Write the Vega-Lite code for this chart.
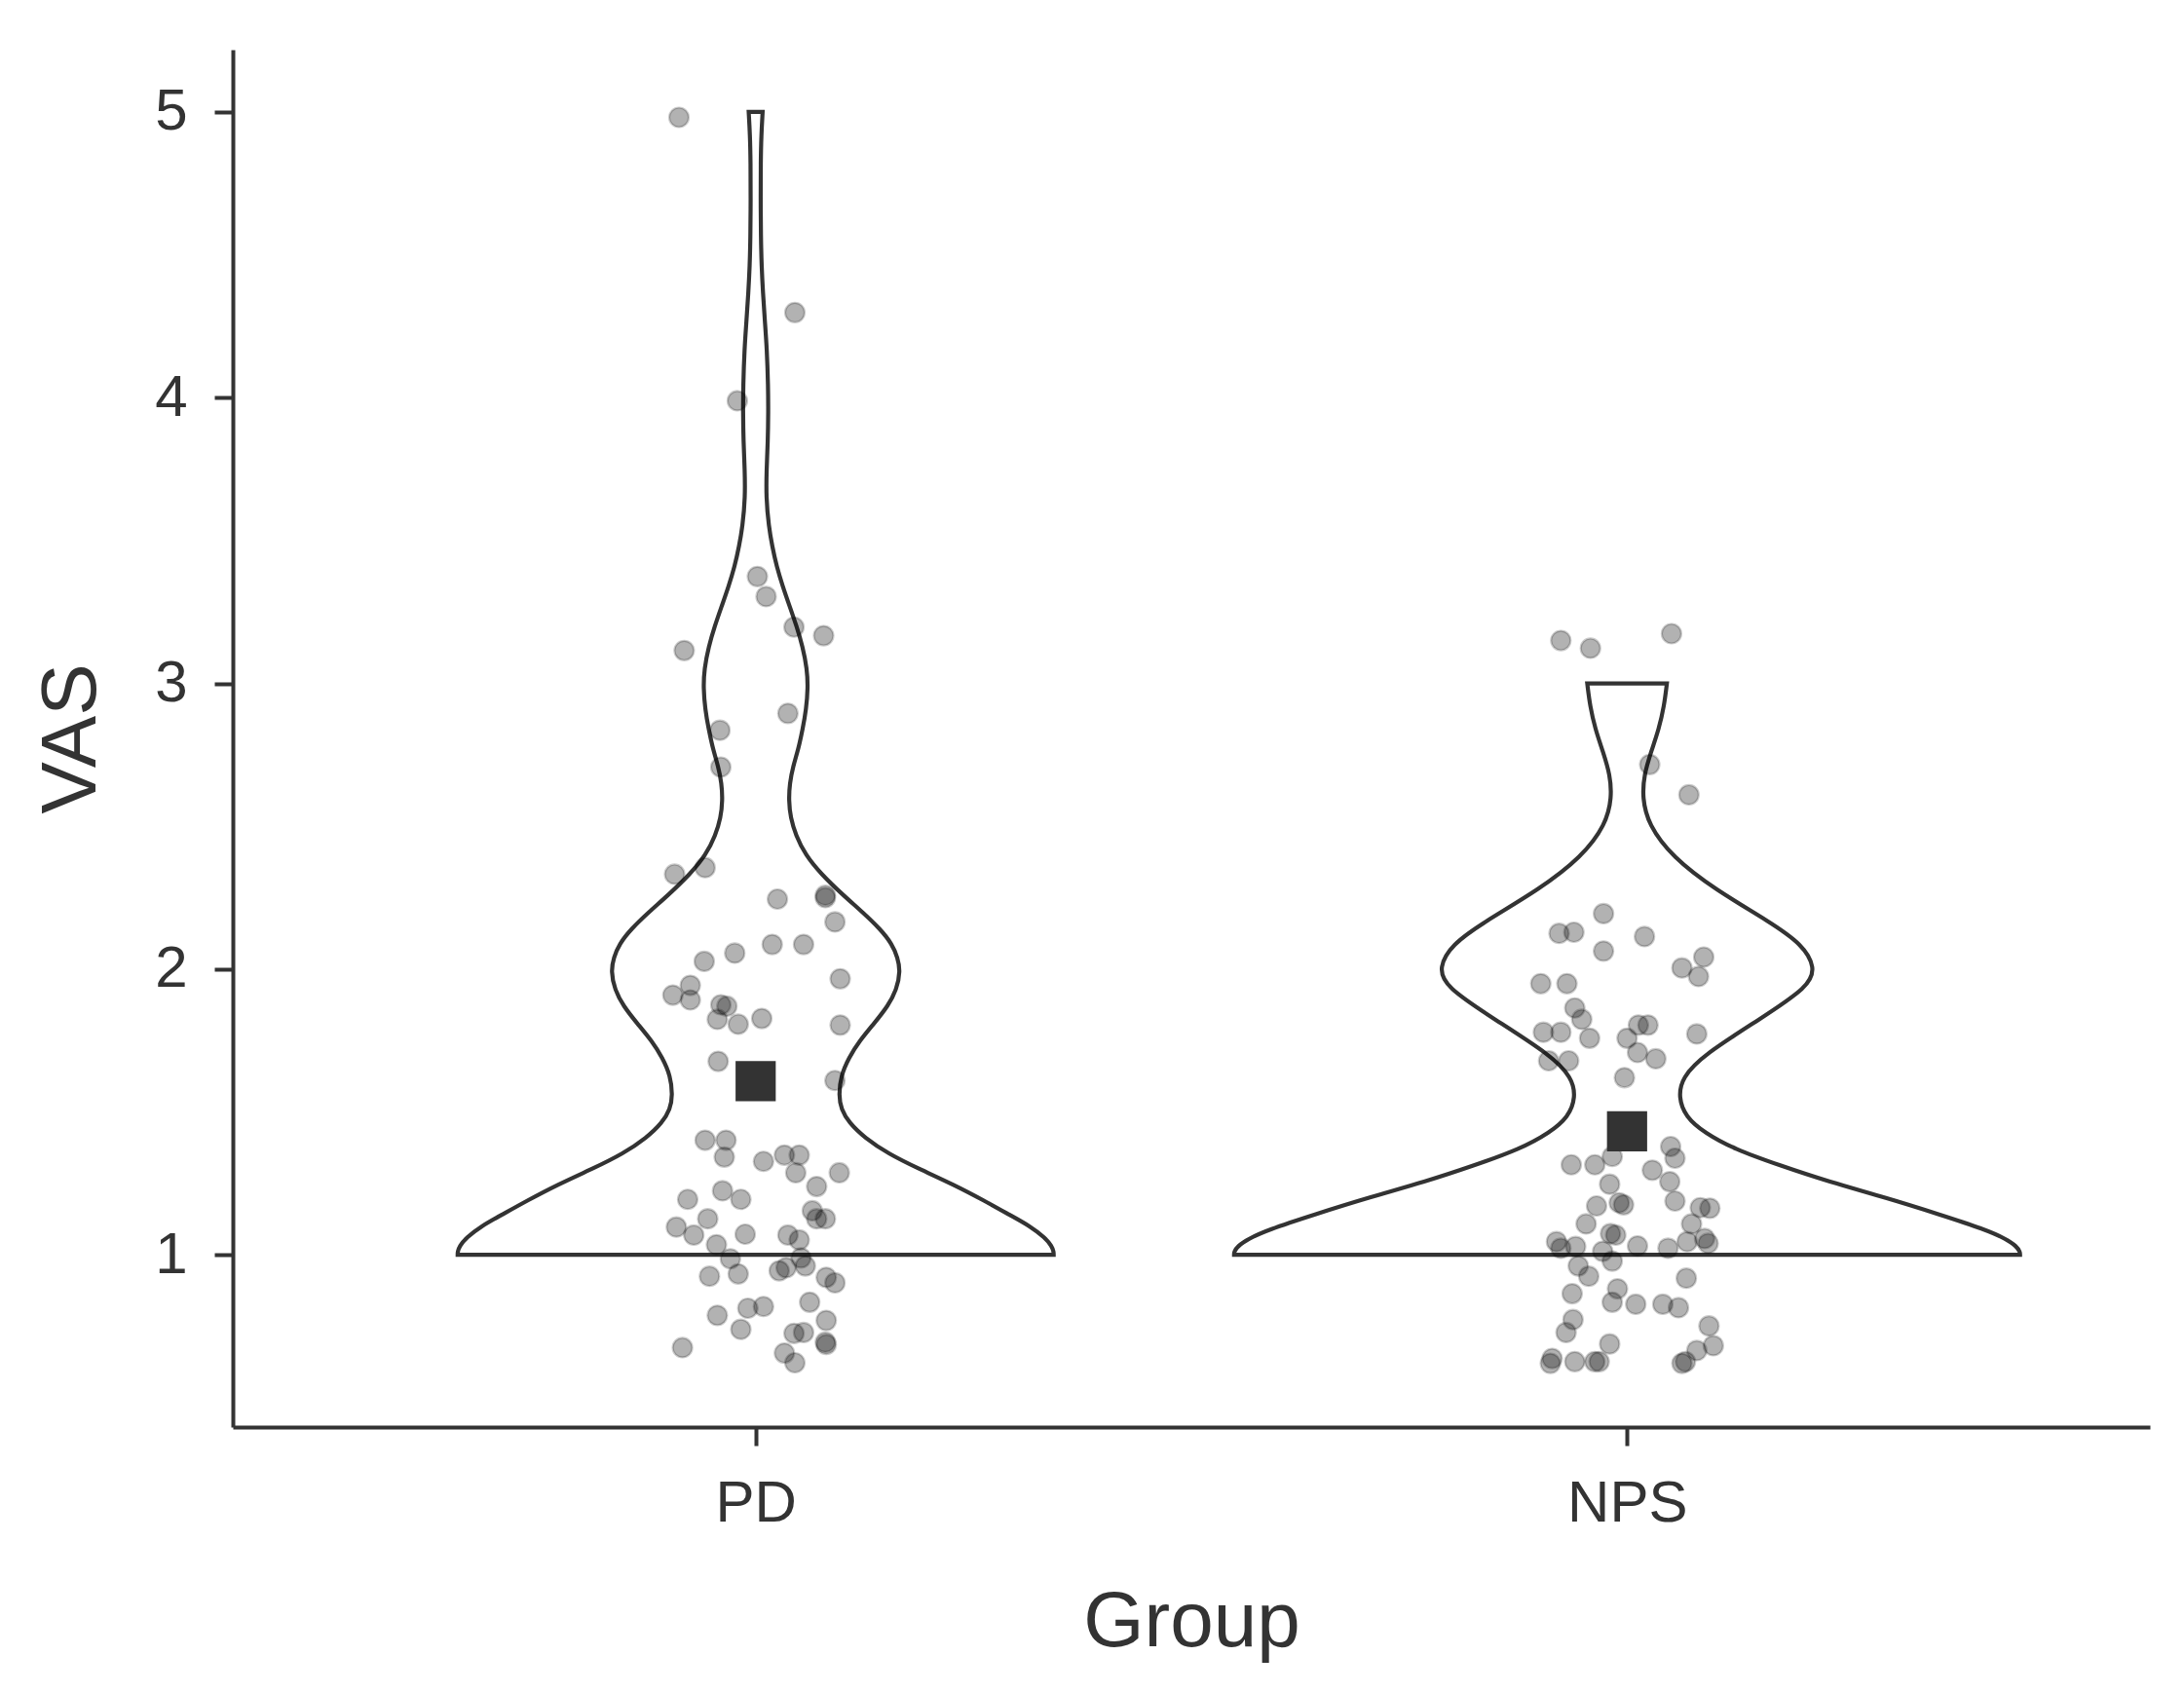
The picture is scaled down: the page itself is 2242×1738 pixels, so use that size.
{
  "$schema": "https://vega.github.io/schema/vega-lite/v6.json",
  "width": 1968,
  "height": 1414,
  "autosize": "none",
  "padding": {"left": 239, "top": 51, "right": 35, "bottom": 273},
  "background": "white",
  "config": {
    "view": {"stroke": null},
    "axis": {
      "grid": false,
      "domainColor": "#333333",
      "domainWidth": 4,
      "tickColor": "#333333",
      "tickWidth": 4,
      "tickSize": 19,
      "labelFont": "Liberation Sans",
      "labelFontSize": 60,
      "labelColor": "#333333",
      "titleFont": "Liberation Sans",
      "titleFontSize": 80,
      "titleFontWeight": "normal",
      "titleColor": "#333333"
    }
  },
  "datasets": {
    "violin": [
      {"g": "PD", "v": 1.000, "x": 0.658, "x2": 1.342},
      {"g": "PD", "v": 1.010, "x": 0.658, "x2": 1.342},
      {"g": "PD", "v": 1.030, "x": 0.660, "x2": 1.340},
      {"g": "PD", "v": 1.060, "x": 0.668, "x2": 1.332},
      {"g": "PD", "v": 1.100, "x": 0.685, "x2": 1.315},
      {"g": "PD", "v": 1.137, "x": 0.707, "x2": 1.293},
      {"g": "PD", "v": 1.190, "x": 0.738, "x2": 1.262},
      {"g": "PD", "v": 1.246, "x": 0.773, "x2": 1.227},
      {"g": "PD", "v": 1.300, "x": 0.812, "x2": 1.188},
      {"g": "PD", "v": 1.354, "x": 0.848, "x2": 1.152},
      {"g": "PD", "v": 1.410, "x": 0.875, "x2": 1.125},
      {"g": "PD", "v": 1.463, "x": 0.893, "x2": 1.107},
      {"g": "PD", "v": 1.510, "x": 0.902, "x2": 1.098},
      {"g": "PD", "v": 1.558, "x": 0.9046, "x2": 1.0954},
      {"g": "PD", "v": 1.626, "x": 0.9023, "x2": 1.0977},
      {"g": "PD", "v": 1.690, "x": 0.893, "x2": 1.107},
      {"g": "PD", "v": 1.748, "x": 0.881, "x2": 1.119},
      {"g": "PD", "v": 1.810, "x": 0.864, "x2": 1.136},
      {"g": "PD", "v": 1.871, "x": 0.848, "x2": 1.152},
      {"g": "PD", "v": 1.930, "x": 0.838, "x2": 1.162},
      {"g": "PD", "v": 1.993, "x": 0.834, "x2": 1.166},
      {"g": "PD", "v": 2.040, "x": 0.837, "x2": 1.163},
      {"g": "PD", "v": 2.088, "x": 0.8435, "x2": 1.1565},
      {"g": "PD", "v": 2.140, "x": 0.857, "x2": 1.143},
      {"g": "PD", "v": 2.197, "x": 0.8765, "x2": 1.1235},
      {"g": "PD", "v": 2.260, "x": 0.900, "x2": 1.100},
      {"g": "PD", "v": 2.333, "x": 0.925, "x2": 1.075},
      {"g": "PD", "v": 2.400, "x": 0.943, "x2": 1.057},
      {"g": "PD", "v": 2.469, "x": 0.954, "x2": 1.046},
      {"g": "PD", "v": 2.530, "x": 0.960, "x2": 1.040},
      {"g": "PD", "v": 2.590, "x": 0.962, "x2": 1.038},
      {"g": "PD", "v": 2.650, "x": 0.961, "x2": 1.039},
      {"g": "PD", "v": 2.710, "x": 0.957, "x2": 1.043},
      {"g": "PD", "v": 2.770, "x": 0.951, "x2": 1.049},
      {"g": "PD", "v": 2.840, "x": 0.946, "x2": 1.054},
      {"g": "PD", "v": 2.910, "x": 0.942, "x2": 1.058},
      {"g": "PD", "v": 2.985, "x": 0.940, "x2": 1.060},
      {"g": "PD", "v": 3.050, "x": 0.941, "x2": 1.059},
      {"g": "PD", "v": 3.128, "x": 0.946, "x2": 1.054},
      {"g": "PD", "v": 3.200, "x": 0.953, "x2": 1.047},
      {"g": "PD", "v": 3.270, "x": 0.961, "x2": 1.039},
      {"g": "PD", "v": 3.340, "x": 0.969, "x2": 1.031},
      {"g": "PD", "v": 3.410, "x": 0.976, "x2": 1.024},
      {"g": "PD", "v": 3.480, "x": 0.981, "x2": 1.019},
      {"g": "PD", "v": 3.550, "x": 0.985, "x2": 1.015},
      {"g": "PD", "v": 3.650, "x": 0.988, "x2": 1.012},
      {"g": "PD", "v": 3.750, "x": 0.9875, "x2": 1.0125},
      {"g": "PD", "v": 3.846, "x": 0.986, "x2": 1.014},
      {"g": "PD", "v": 3.950, "x": 0.9855, "x2": 1.0145},
      {"g": "PD", "v": 4.040, "x": 0.9857, "x2": 1.0143},
      {"g": "PD", "v": 4.170, "x": 0.9871, "x2": 1.0129},
      {"g": "PD", "v": 4.270, "x": 0.9895, "x2": 1.0105},
      {"g": "PD", "v": 4.367, "x": 0.9916, "x2": 1.0084},
      {"g": "PD", "v": 4.460, "x": 0.9932, "x2": 1.0068},
      {"g": "PD", "v": 4.563, "x": 0.9940, "x2": 1.0060},
      {"g": "PD", "v": 4.700, "x": 0.9943, "x2": 1.0057},
      {"g": "PD", "v": 4.824, "x": 0.9942, "x2": 1.0058},
      {"g": "PD", "v": 4.920, "x": 0.9935, "x2": 1.0065},
      {"g": "PD", "v": 5.000, "x": 0.992, "x2": 1.008},
      {"g": "NPS", "v": 1.000, "x": 1.549, "x2": 2.451},
      {"g": "NPS", "v": 1.010, "x": 1.549, "x2": 2.451},
      {"g": "NPS", "v": 1.030, "x": 1.553, "x2": 2.447},
      {"g": "NPS", "v": 1.055, "x": 1.565, "x2": 2.435},
      {"g": "NPS", "v": 1.086, "x": 1.5863, "x2": 2.4137},
      {"g": "NPS", "v": 1.142, "x": 1.6422, "x2": 2.3578},
      {"g": "NPS", "v": 1.199, "x": 1.7018, "x2": 2.2982},
      {"g": "NPS", "v": 1.256, "x": 1.7689, "x2": 2.2311},
      {"g": "NPS", "v": 1.313, "x": 1.825, "x2": 2.175},
      {"g": "NPS", "v": 1.370, "x": 1.877, "x2": 2.123},
      {"g": "NPS", "v": 1.427, "x": 1.911, "x2": 2.089},
      {"g": "NPS", "v": 1.483, "x": 1.9329, "x2": 2.0671},
      {"g": "NPS", "v": 1.551, "x": 1.941, "x2": 2.059},
      {"g": "NPS", "v": 1.620, "x": 1.937, "x2": 2.063},
      {"g": "NPS", "v": 1.700, "x": 1.912, "x2": 2.088},
      {"g": "NPS", "v": 1.824, "x": 1.848, "x2": 2.152},
      {"g": "NPS", "v": 1.938, "x": 1.7913, "x2": 2.2087},
      {"g": "NPS", "v": 2.006, "x": 1.7839, "x2": 2.2161},
      {"g": "NPS", "v": 2.086, "x": 1.7987, "x2": 2.2013},
      {"g": "NPS", "v": 2.165, "x": 1.836, "x2": 2.164},
      {"g": "NPS", "v": 2.279, "x": 1.8994, "x2": 2.1006},
      {"g": "NPS", "v": 2.392, "x": 1.948, "x2": 2.052},
      {"g": "NPS", "v": 2.506, "x": 1.9757, "x2": 2.0243},
      {"g": "NPS", "v": 2.600, "x": 1.9825, "x2": 2.0175},
      {"g": "NPS", "v": 2.680, "x": 1.9805, "x2": 2.0195},
      {"g": "NPS", "v": 2.760, "x": 1.9725, "x2": 2.0275},
      {"g": "NPS", "v": 2.840, "x": 1.9635, "x2": 2.0365},
      {"g": "NPS", "v": 2.920, "x": 1.9575, "x2": 2.0425},
      {"g": "NPS", "v": 3.000, "x": 1.9543, "x2": 2.0457}
    ],
    "points": [
      {"g": "PD", "x": 0.912, "v": 4.981}, {"g": "PD", "x": 1.045, "v": 4.298},
      {"g": "PD", "x": 0.979, "v": 3.989}, {"g": "PD", "x": 1.002, "v": 3.374},
      {"g": "PD", "x": 1.012, "v": 3.304}, {"g": "PD", "x": 1.044, "v": 3.197},
      {"g": "PD", "x": 1.078, "v": 3.167}, {"g": "PD", "x": 0.918, "v": 3.115},
      {"g": "PD", "x": 1.037, "v": 2.895}, {"g": "PD", "x": 0.959, "v": 2.836},
      {"g": "PD", "x": 0.960, "v": 2.707}, {"g": "PD", "x": 0.907, "v": 2.332},
      {"g": "PD", "x": 0.942, "v": 2.355}, {"g": "PD", "x": 1.025, "v": 2.245},
      {"g": "PD", "x": 1.080, "v": 2.258}, {"g": "PD", "x": 1.080, "v": 2.250},
      {"g": "PD", "x": 1.091, "v": 2.165}, {"g": "PD", "x": 1.019, "v": 2.086},
      {"g": "PD", "x": 1.055, "v": 2.086}, {"g": "PD", "x": 0.976, "v": 2.056},
      {"g": "PD", "x": 0.941, "v": 2.027}, {"g": "PD", "x": 1.097, "v": 1.966},
      {"g": "PD", "x": 0.925, "v": 1.943}, {"g": "PD", "x": 0.905, "v": 1.909},
      {"g": "PD", "x": 0.925, "v": 1.892}, {"g": "PD", "x": 0.960, "v": 1.875},
      {"g": "PD", "x": 0.967, "v": 1.870}, {"g": "PD", "x": 0.956, "v": 1.824},
      {"g": "PD", "x": 0.980, "v": 1.807}, {"g": "PD", "x": 1.007, "v": 1.827},
      {"g": "PD", "x": 1.097, "v": 1.804}, {"g": "PD", "x": 0.957, "v": 1.677},
      {"g": "PD", "x": 1.091, "v": 1.610}, {"g": "PD", "x": 0.942, "v": 1.401},
      {"g": "PD", "x": 0.966, "v": 1.401}, {"g": "PD", "x": 0.964, "v": 1.342},
      {"g": "PD", "x": 1.009, "v": 1.327}, {"g": "PD", "x": 1.033, "v": 1.349},
      {"g": "PD", "x": 1.050, "v": 1.349}, {"g": "PD", "x": 1.046, "v": 1.287},
      {"g": "PD", "x": 1.096, "v": 1.287}, {"g": "PD", "x": 1.070, "v": 1.239},
      {"g": "PD", "x": 0.922, "v": 1.194}, {"g": "PD", "x": 0.962, "v": 1.224},
      {"g": "PD", "x": 0.983, "v": 1.194}, {"g": "PD", "x": 1.065, "v": 1.154},
      {"g": "PD", "x": 1.070, "v": 1.126}, {"g": "PD", "x": 1.080, "v": 1.126},
      {"g": "PD", "x": 0.945, "v": 1.126}, {"g": "PD", "x": 0.909, "v": 1.097},
      {"g": "PD", "x": 0.929, "v": 1.069}, {"g": "PD", "x": 0.988, "v": 1.072},
      {"g": "PD", "x": 1.037, "v": 1.069}, {"g": "PD", "x": 1.050, "v": 1.052},
      {"g": "PD", "x": 0.955, "v": 1.035}, {"g": "PD", "x": 0.971, "v": 0.986},
      {"g": "PD", "x": 1.052, "v": 0.989}, {"g": "PD", "x": 1.057, "v": 0.961},
      {"g": "PD", "x": 1.027, "v": 0.944}, {"g": "PD", "x": 1.035, "v": 0.955},
      {"g": "PD", "x": 0.947, "v": 0.925}, {"g": "PD", "x": 0.980, "v": 0.933},
      {"g": "PD", "x": 1.081, "v": 0.921}, {"g": "PD", "x": 1.091, "v": 0.902},
      {"g": "PD", "x": 1.062, "v": 0.834}, {"g": "PD", "x": 0.991, "v": 0.813},
      {"g": "PD", "x": 1.009, "v": 0.819}, {"g": "PD", "x": 0.956, "v": 0.788},
      {"g": "PD", "x": 1.081, "v": 0.770}, {"g": "PD", "x": 0.983, "v": 0.739},
      {"g": "PD", "x": 1.044, "v": 0.725}, {"g": "PD", "x": 1.055, "v": 0.728},
      {"g": "PD", "x": 1.080, "v": 0.694}, {"g": "PD", "x": 1.081, "v": 0.686},
      {"g": "PD", "x": 0.916, "v": 0.675}, {"g": "PD", "x": 1.033, "v": 0.656},
      {"g": "PD", "x": 1.045, "v": 0.622},
      {"g": "NPS", "x": 1.924, "v": 3.150}, {"g": "NPS", "x": 1.958, "v": 3.123},
      {"g": "NPS", "x": 2.051, "v": 3.174}, {"g": "NPS", "x": 2.026, "v": 2.716},
      {"g": "NPS", "x": 2.071, "v": 2.610}, {"g": "NPS", "x": 1.973, "v": 2.194},
      {"g": "NPS", "x": 1.922, "v": 2.125}, {"g": "NPS", "x": 1.939, "v": 2.129},
      {"g": "NPS", "x": 1.973, "v": 2.063}, {"g": "NPS", "x": 2.020, "v": 2.114},
      {"g": "NPS", "x": 2.088, "v": 2.042}, {"g": "NPS", "x": 2.063, "v": 2.004},
      {"g": "NPS", "x": 2.082, "v": 1.974}, {"g": "NPS", "x": 1.901, "v": 1.949},
      {"g": "NPS", "x": 1.931, "v": 1.949}, {"g": "NPS", "x": 1.940, "v": 1.864},
      {"g": "NPS", "x": 1.948, "v": 1.824}, {"g": "NPS", "x": 1.904, "v": 1.779},
      {"g": "NPS", "x": 1.924, "v": 1.779}, {"g": "NPS", "x": 1.957, "v": 1.758},
      {"g": "NPS", "x": 2.013, "v": 1.804}, {"g": "NPS", "x": 2.024, "v": 1.804},
      {"g": "NPS", "x": 2.000, "v": 1.758}, {"g": "NPS", "x": 2.080, "v": 1.773},
      {"g": "NPS", "x": 1.910, "v": 1.679}, {"g": "NPS", "x": 1.933, "v": 1.679},
      {"g": "NPS", "x": 2.012, "v": 1.708}, {"g": "NPS", "x": 2.033, "v": 1.686},
      {"g": "NPS", "x": 1.997, "v": 1.620}, {"g": "NPS", "x": 1.936, "v": 1.315},
      {"g": "NPS", "x": 1.963, "v": 1.315}, {"g": "NPS", "x": 1.983, "v": 1.344},
      {"g": "NPS", "x": 2.050, "v": 1.379}, {"g": "NPS", "x": 2.055, "v": 1.338},
      {"g": "NPS", "x": 2.029, "v": 1.296}, {"g": "NPS", "x": 2.049, "v": 1.256},
      {"g": "NPS", "x": 1.980, "v": 1.247}, {"g": "NPS", "x": 2.055, "v": 1.188},
      {"g": "NPS", "x": 1.965, "v": 1.171}, {"g": "NPS", "x": 1.991, "v": 1.182},
      {"g": "NPS", "x": 1.996, "v": 1.175}, {"g": "NPS", "x": 2.084, "v": 1.165},
      {"g": "NPS", "x": 2.095, "v": 1.163}, {"g": "NPS", "x": 1.953, "v": 1.108},
      {"g": "NPS", "x": 2.074, "v": 1.108}, {"g": "NPS", "x": 1.981, "v": 1.074},
      {"g": "NPS", "x": 1.987, "v": 1.069}, {"g": "NPS", "x": 1.919, "v": 1.046},
      {"g": "NPS", "x": 1.924, "v": 1.023}, {"g": "NPS", "x": 1.941, "v": 1.029},
      {"g": "NPS", "x": 1.972, "v": 1.012}, {"g": "NPS", "x": 1.983, "v": 0.978},
      {"g": "NPS", "x": 2.012, "v": 1.031}, {"g": "NPS", "x": 2.047, "v": 1.023},
      {"g": "NPS", "x": 2.069, "v": 1.046}, {"g": "NPS", "x": 2.089, "v": 1.057},
      {"g": "NPS", "x": 2.093, "v": 1.040}, {"g": "NPS", "x": 1.944, "v": 0.961},
      {"g": "NPS", "x": 1.956, "v": 0.925}, {"g": "NPS", "x": 2.068, "v": 0.918},
      {"g": "NPS", "x": 1.937, "v": 0.864}, {"g": "NPS", "x": 1.989, "v": 0.881},
      {"g": "NPS", "x": 1.983, "v": 0.834}, {"g": "NPS", "x": 2.010, "v": 0.827},
      {"g": "NPS", "x": 2.041, "v": 0.827}, {"g": "NPS", "x": 2.059, "v": 0.815},
      {"g": "NPS", "x": 1.938, "v": 0.773}, {"g": "NPS", "x": 1.930, "v": 0.728},
      {"g": "NPS", "x": 2.094, "v": 0.751}, {"g": "NPS", "x": 2.099, "v": 0.682},
      {"g": "NPS", "x": 2.080, "v": 0.665}, {"g": "NPS", "x": 1.980, "v": 0.688},
      {"g": "NPS", "x": 1.914, "v": 0.637}, {"g": "NPS", "x": 1.912, "v": 0.620},
      {"g": "NPS", "x": 1.940, "v": 0.626}, {"g": "NPS", "x": 1.963, "v": 0.626},
      {"g": "NPS", "x": 1.968, "v": 0.626}, {"g": "NPS", "x": 2.063, "v": 0.620},
      {"g": "NPS", "x": 2.067, "v": 0.626}
    ],
    "means": [
      {"g": "PD", "x": 1, "v": 1.608},
      {"g": "NPS", "x": 2, "v": 1.432}
    ]
  },
  "encoding": {
    "x": {
      "field": "x",
      "type": "quantitative",
      "scale": {"domain": [0.4, 2.6], "nice": false, "zero": false},
      "axis": {
        "title": "Group",
        "values": [1, 2],
        "labelExpr": "datum.value == 1 ? 'PD' : 'NPS'",
        "labelPadding": 30,
        "titlePadding": 53,
        "labelFlush": false
      }
    },
    "y": {
      "field": "v",
      "type": "quantitative",
      "scale": {"domain": [0.397, 5.218], "nice": false, "zero": false},
      "axis": {
        "title": "VAS",
        "values": [1, 2, 3, 4, 5],
        "labelPadding": 28,
        "titlePadding": 44,
        "labelFlush": false
      }
    }
  },
  "layer": [
    {
      "data": {"name": "violin"},
      "mark": {
        "type": "area",
        "orient": "horizontal",
        "interpolate": "basis",
        "fill": "white",
        "stroke": "#333333",
        "strokeWidth": 4.2,
        "strokeJoin": "miter"
      },
      "encoding": {
        "x2": {"field": "x2"},
        "detail": {"field": "g", "type": "nominal"}
      }
    },
    {
      "data": {"name": "points"},
      "mark": {
        "type": "point",
        "shape": "circle",
        "filled": true,
        "size": 400,
        "fill": "#000000",
        "fillOpacity": 0.3,
        "stroke": "#000000",
        "strokeOpacity": 0.2,
        "strokeWidth": 2.2
      }
    },
    {
      "data": {"name": "means"},
      "mark": {
        "type": "point",
        "shape": "square",
        "filled": true,
        "size": 1700,
        "color": "#333333",
        "opacity": 1
      }
    }
  ]
}
